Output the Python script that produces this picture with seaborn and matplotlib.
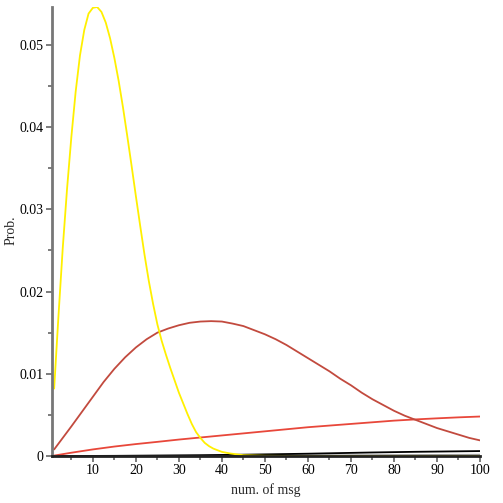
import numpy as np
import pandas as pd
import matplotlib
matplotlib.use("Agg")
import matplotlib.pyplot as plt
import seaborn as sns

# ---------------------- DATA ----------------------
yellow_x = list(range(1, 41)) + [42, 45, 50, 60, 70, 80, 90, 100]
yellow_y = [0.0082, 0.0170, 0.0253, 0.0325, 0.0388, 0.0443, 0.0487, 0.0518, 0.0538, 0.0545,
            0.0546, 0.0540, 0.0527, 0.0508, 0.0484, 0.0456, 0.0424, 0.0389, 0.0353, 0.0316,
            0.0280, 0.0245, 0.0213, 0.0185, 0.0160, 0.0140, 0.0123, 0.0107, 0.0092, 0.0077,
            0.0064, 0.0051, 0.0039, 0.0029, 0.0022, 0.0016, 0.0012, 0.0009, 0.0007, 0.0005,
            0.0003, 0.0001, 0.00003, 0.0, 0.0, 0.0, 0.0, 0.0]

brown_x = [1, 3, 5, 7.5, 10, 12.5, 15, 17.5, 20, 22.5, 25, 27.5, 30, 32.5, 35, 37.5, 40,
           42.5, 45, 47.5, 50, 52.5, 55, 57.5, 60, 62.5, 65, 67.5, 70, 72.5, 75, 77.5, 80,
           82.5, 85, 87.5, 90, 92.5, 95, 97.5, 100]
brown_y = [0.0008, 0.0022, 0.0036, 0.0054, 0.0072, 0.0090, 0.0106, 0.0120, 0.0132, 0.0142,
           0.0150, 0.0155, 0.0159, 0.0162, 0.01635, 0.0164, 0.01635, 0.0161, 0.0158, 0.0153,
           0.0148, 0.0142, 0.0135, 0.0127, 0.0119, 0.0111, 0.0103, 0.0094, 0.0086, 0.0077,
           0.0069, 0.0062, 0.0055, 0.0049, 0.0044, 0.0039, 0.0034, 0.0030, 0.0026, 0.0022,
           0.0019]

line_x = [1, 5, 10, 15, 20, 25, 30, 35, 40, 45, 50, 55, 60, 65, 70, 75, 80, 85, 90, 95, 100]
red_y = [0.00005, 0.0004, 0.0008, 0.00115, 0.00145, 0.00172, 0.0020, 0.00225, 0.0025, 0.00275,
         0.0030, 0.00325, 0.0035, 0.0037, 0.0039, 0.0041, 0.0043, 0.00445, 0.00458, 0.0047,
         0.0048]
black_y = [0.0, 0.0, 0.00001, 0.00002, 0.00004, 0.00006, 0.00008, 0.0001, 0.00013, 0.00016,
           0.0002, 0.00024, 0.00028, 0.00033, 0.00038, 0.00043, 0.00047, 0.00051, 0.00054, 0.00057,
           0.0006]
grey_y = [0.0, 0.0, 0.0, 0.0, 0.00001, 0.00001, 0.00002, 0.00003, 0.00004, 0.00005,
          0.00006, 0.00007, 0.00008, 0.00009, 0.0001, 0.00011, 0.00012, 0.00013, 0.00014, 0.00015,
          0.00016]

x_ticks = [10, 20, 30, 40, 50, 60, 70, 80, 90, 100]
y_ticks = [0, 0.01, 0.02, 0.03, 0.04, 0.05]
y_tick_labels = ["0", "0.01", "0.02", "0.03", "0.04", "0.05"]

df_yellow = pd.DataFrame({"x": yellow_x, "y": yellow_y})
df_brown = pd.DataFrame({"x": brown_x, "y": brown_y})
df_lines = pd.DataFrame({"x": line_x, "red": red_y, "black": black_y, "grey": grey_y})

# ---------------------- PLOT ----------------------
sns.set_theme(style="white")
plt.rcParams["font.family"] = ["Liberation Serif", "DejaVu Serif"]

fig = plt.figure(figsize=(5.03, 5.03), dpi=100)
ax = fig.add_axes([52 / 503, 47 / 503, 428 / 503, 449 / 503])

sns.lineplot(data=df_lines, x="x", y="grey", color="#a0a0a0", linewidth=1.2, ax=ax)
sns.lineplot(data=df_lines, x="x", y="black", color="black", linewidth=1.3, ax=ax)
sns.lineplot(data=df_lines, x="x", y="red", color="#e8473a", linewidth=1.3, ax=ax)
sns.lineplot(data=df_brown, x="x", y="y", color="#c24a3e", linewidth=1.3, ax=ax)
sns.lineplot(data=df_yellow, x="x", y="y", color="#fff000", linewidth=1.3, ax=ax)

ax.set_xlim(0.5, 100)
ax.set_ylim(0, 0.0546)

ax.set_xticks(x_ticks)
ax.set_xticks(np.arange(5, 100, 5), minor=True)
ax.set_yticks(y_ticks)
ax.set_yticklabels(y_tick_labels)
ax.set_yticks(np.arange(0.005, 0.055, 0.005), minor=True)

ax.tick_params(axis="both", which="both", direction="out", labelsize=10,
               colors="#666666", labelcolor="black")
ax.tick_params(axis="both", which="major", length=4, width=1.2, pad=2)
ax.tick_params(axis="both", which="minor", length=3, width=1.2)
ax.tick_params(axis="x", which="both", bottom=True)
ax.tick_params(axis="y", which="both", left=True)

for side in ["top", "right"]:
    ax.spines[side].set_visible(False)
ax.spines["left"].set_color("#777777")
ax.spines["left"].set_linewidth(2)
ax.spines["bottom"].set_color("#222222")
ax.spines["bottom"].set_linewidth(2)

ax.set_xlabel("num. of msg", fontsize=10, labelpad=4)
ax.set_ylabel("Prob.", fontsize=10)
ax.yaxis.set_label_coords(-0.08, 0.503)

fig.savefig("out.png", dpi=100)
